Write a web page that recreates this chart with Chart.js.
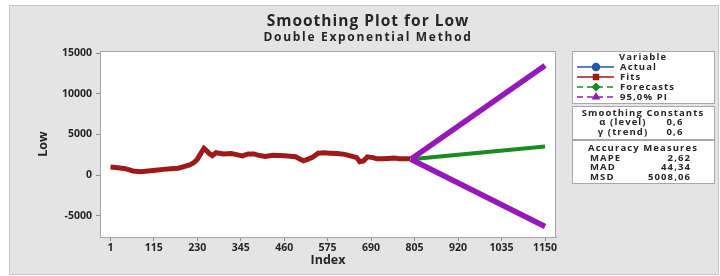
<!DOCTYPE html>
<html>
<head>
<meta charset="utf-8">
<script src="https://cdn.jsdelivr.net/npm/chart.js@4/dist/chart.umd.min.js"></script>
<style>
  body { margin: 0; background: #ffffff; }
  canvas { display: block; }
</style>
</head>
<body>
<canvas id="myChart" width="720" height="276"></canvas>
<script>
// data
var fitIndex = [1, 20, 40, 60, 80, 100, 120, 140, 160, 180, 195, 210, 220, 230, 240, 248, 255, 262, 270, 280,
  300, 320, 340, 350, 365, 380, 395, 410, 430, 450, 470, 490, 500, 511, 520, 535, 550, 565, 580, 600,
  620, 640, 652, 660, 670, 680, 695, 705, 720, 735, 750, 765, 780, 793];
var actualLow = [1050, 880, 760, 470, 380, 520, 600, 690, 800, 850, 1100, 1300, 1550, 1950, 2800, 3400, 2950, 2600, 2350, 2800,
  2600, 2700, 2450, 2300, 2650, 2600, 2400, 2250, 2450, 2400, 2350, 2250, 2000, 1700, 1900, 2250, 2750, 2800, 2700, 2650,
  2550, 2300, 2100, 1600, 1750, 2300, 2200, 2000, 2000, 2050, 2100, 1950, 2000, 2000];
var fitsLow = [1000, 900, 780, 500, 420, 500, 600, 700, 780, 850, 1050, 1250, 1500, 1900, 2700, 3300, 3000, 2650, 2400, 2750,
  2600, 2650, 2450, 2350, 2600, 2600, 2400, 2300, 2450, 2400, 2350, 2250, 2000, 1750, 1900, 2200, 2700, 2750, 2700, 2650,
  2550, 2300, 2150, 1650, 1750, 2250, 2150, 2000, 2000, 2050, 2100, 2000, 2000, 2000];

var forecastIndex = [795, 1150];
var forecastLow = [1950, 3520];
var upperPI = [1950, 13500];
var lowerPI = [1950, -6330];

var xTicks = [1, 115, 230, 345, 460, 575, 690, 805, 920, 1035, 1150];
var yTicks = [-5000, 0, 5000, 10000, 15000];

var blue = '#1f5aa6', red = '#9e1a1a', green = '#1b8a1f', purple = '#9419b8';
var textColor = '#262626';
var fontName = '"Open Sans", "DejaVu Sans", sans-serif';

function pts(xs, ys) {
  return xs.map(function (x, i) { return { x: x, y: ys[i] }; });
}

// gray frame, white plot, title and the three side boxes
var minitabDeco = {
  id: 'minitabDeco',
  beforeDraw: function (chart) {
    var ctx = chart.ctx, a = chart.chartArea;
    ctx.save();
    ctx.fillStyle = '#ffffff';
    ctx.fillRect(0, 0, chart.width, chart.height);
    ctx.fillStyle = '#e4e4e4';
    ctx.fillRect(9, 5, 709, 269);
    ctx.strokeStyle = '#c6c6c6';
    ctx.lineWidth = 1;
    ctx.strokeRect(9.5, 5.5, 709, 269);
    ctx.fillStyle = '#ffffff';
    ctx.fillRect(a.left, a.top, a.right - a.left, a.bottom - a.top);
    ctx.restore();
  },
  afterDraw: function (chart) {
    var ctx = chart.ctx, a = chart.chartArea;
    ctx.save();
    ctx.strokeStyle = '#a6a6a6';
    ctx.lineWidth = 1;
    ctx.strokeRect(a.left + 0.5, a.top + 0.5, a.right - a.left - 1, a.bottom - a.top);

    ctx.fillStyle = textColor;
    ctx.textBaseline = 'middle';
    ctx.textAlign = 'center';
    ctx.font = 'bold 15.5px ' + fontName;
    ctx.letterSpacing = '1px';
    ctx.fillText('Smoothing Plot for Low', 368, 22);
    ctx.font = 'bold 12px ' + fontName;
    ctx.letterSpacing = '1.7px';
    ctx.fillText('Double Exponential Method', 368, 38);

    // boxes
    ctx.fillStyle = '#ffffff';
    ctx.strokeStyle = '#a8a8a8';
    [[572, 51, 142, 52], [572, 106, 142, 33], [572, 140, 142, 43]].forEach(function (b) {
      ctx.fillRect(b[0], b[1], b[2], b[3]);
      ctx.strokeRect(b[0] + 0.5, b[1] + 0.5, b[2], b[3]);
    });

    ctx.fillStyle = textColor;
    ctx.font = 'bold 9.5px ' + fontName;
    ctx.letterSpacing = '1.1px';
    ctx.textAlign = 'center';
    ctx.fillText('Variable', 643, 57);
    ctx.fillText('Smoothing Constants', 643, 113);
    ctx.fillText('Accuracy Measures', 643, 148);

    var rows = [
      ['Actual', blue, [], 'circle'],
      ['Fits', red, [], 'rect'],
      ['Forecasts', green, [6, 4], 'rectRot'],
      ['95,0% PI', purple, [6, 4], 'triangle']
    ];
    rows.forEach(function (r, i) {
      var y = 67 + i * 10;
      ctx.strokeStyle = r[1];
      ctx.lineWidth = 1.5;
      ctx.setLineDash(r[2]);
      ctx.beginPath();
      ctx.moveTo(577, y);
      ctx.lineTo(614, y);
      ctx.stroke();
      ctx.setLineDash([]);
      ctx.fillStyle = r[1];
      Chart.helpers.drawPoint(ctx, { pointStyle: r[3], radius: 3.5, rotation: 0, borderWidth: 1 }, 596, y);
      ctx.fill();
      ctx.fillStyle = textColor;
      ctx.textAlign = 'left';
      ctx.fillText(r[0], 620, y);
    });

    ctx.textAlign = 'center';
    ctx.fillText('\u03b1 (level)', 623, 122);
    ctx.fillText('\u03b3 (trend)', 623, 132);
    ctx.fillText('0,6', 675, 122);
    ctx.fillText('0,6', 675, 132);

    var measures = [['MAPE', '2,62'], ['MAD', '44,34'], ['MSD', '5008,06']];
    measures.forEach(function (m, i) {
      var y = 158 + i * 9.7;
      ctx.textAlign = 'left';
      ctx.fillText(m[0], 590, y);
      ctx.textAlign = 'right';
      ctx.fillText(m[1], 691, y);
    });
    ctx.restore();
  }
};

var ctx = document.getElementById('myChart').getContext('2d');
var myChart = new Chart(ctx, {
  type: 'line',
  data: {
    datasets: [
      { label: 'Actual', data: pts(fitIndex, actualLow), borderColor: blue, borderWidth: 1.5, pointRadius: 0, order: 3 },
      { label: 'Fits', data: pts(fitIndex, fitsLow), borderColor: red, borderWidth: 5, pointRadius: 0, order: 2 },
      { label: 'Forecasts', data: pts(forecastIndex, forecastLow), borderColor: green, borderWidth: 4, pointRadius: 0, order: 1 },
      { label: 'Upper PI', data: pts(forecastIndex, upperPI), borderColor: purple, borderWidth: 5.5, pointRadius: 0, order: 0 },
      { label: 'Lower PI', data: pts(forecastIndex, lowerPI), borderColor: purple, borderWidth: 5.5, pointRadius: 0, order: 0 }
    ]
  },
  options: {
    responsive: false,
    animation: false,
    devicePixelRatio: 1,
    layout: { padding: { left: 0, top: 51, right: 164, bottom: 0 } },
    plugins: { legend: { display: false }, tooltip: { enabled: false } },
    scales: {
      x: {
        type: 'linear',
        min: -27,
        max: 1179,
        afterBuildTicks: function (s) { s.ticks = xTicks.map(function (v) { return { value: v }; }); },
        afterFit: function (s) { s.height = 39; },
        grid: { drawOnChartArea: false, tickLength: 4, color: '#8c8c8c' },
        border: { color: '#a6a6a6' },
        ticks: { padding: 1, maxRotation: 0, autoSkip: false, color: textColor, font: { family: fontName, size: 10.5, weight: 'bold' },
          callback: function (v) { return String(v); } },
        title: { display: true, text: 'Index', color: textColor, padding: { top: 0, bottom: 8 }, font: { family: fontName, size: 12.5, weight: 'bold' } }
      },
      y: {
        min: -7630,
        max: 15280,
        afterBuildTicks: function (s) { s.ticks = yTicks.map(function (v) { return { value: v }; }); },
        afterFit: function (s) { s.width = 100; },
        grid: { drawOnChartArea: false, tickLength: 4, color: '#8c8c8c' },
        border: { color: '#a6a6a6' },
        ticks: { padding: 4, color: textColor, font: { family: fontName, size: 10.5, weight: 'bold' },
          callback: function (v) { return String(v); } },
        title: { display: true, text: 'Low', color: textColor, padding: { top: 36, bottom: 0 }, font: { family: fontName, size: 12.5, weight: 'bold' } }
      }
    }
  },
  plugins: [minitabDeco]
});
</script>
</body>
</html>
